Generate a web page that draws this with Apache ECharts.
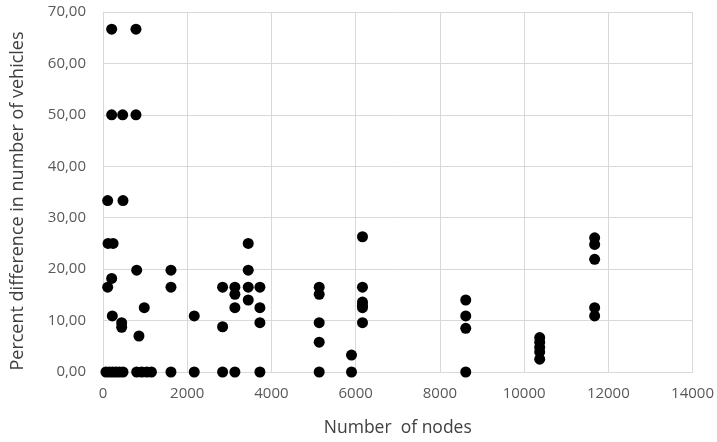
<!DOCTYPE html>
<html>
<head>
<meta charset="utf-8">
<script src="https://cdn.jsdelivr.net/npm/echarts@6/dist/echarts.min.js"></script>
<style>html,body{margin:0;padding:0;background:#fff;}#c{width:717px;height:442px;}</style>
</head>
<body>
<div id="c"></div>
<script>
// Number of nodes (x) and percent difference (y), paired
const nodes = [
  70, 150, 230, 310, 390, 475, 800, 920, 1040, 1150, 1614, 2167, 2840, 3132, 3726, 5134, 5901, 8614,
  206, 783,
  206, 467, 783,
  111, 475,
  120, 240, 3449, 6162, 11675, 11675,
  800, 1614, 3449,
  206,
  111, 1614, 2840, 3132, 3449, 3726, 5134, 6162,
  3132, 5134,
  3449, 8614,
  6162, 6162,
  980, 3132, 3726, 6162, 11675,
  221, 2167, 8614, 11675,
  443, 3726, 5134, 6162,
  443, 2840, 8614,
  854,
  5134,
  5901,
  10370, 10370, 10370, 10370, 10370,
  11675
];
const percentDiff = [
  0, 0, 0, 0, 0, 0, 0, 0, 0, 0, 0, 0, 0, 0, 0, 0, 0, 0,
  66.67, 66.67,
  50, 50, 50,
  33.33, 33.33,
  25, 25, 25, 26.3, 26.1, 24.8,
  19.8, 19.8, 19.8,
  18.2,
  16.5, 16.5, 16.5, 16.5, 16.5, 16.5, 16.5, 16.5,
  15.1, 15.1,
  14.0, 14.0,
  13.6, 13.0,
  12.5, 12.5, 12.5, 12.5, 12.5,
  10.9, 10.9, 10.9, 10.9,
  9.6, 9.6, 9.6, 9.6,
  8.7, 8.8, 8.5,
  7.0,
  5.8,
  3.3,
  6.7, 5.8, 4.8, 3.9, 2.5,
  21.9
];
const xTicks = { min: 0, max: 14000, interval: 2000 };
const yTicks = { min: 0, max: 70, interval: 10 };

const points = nodes.map((x, i) => [x, percentDiff[i]]);
const font = "'Open Sans', sans-serif";
const chart = echarts.init(document.getElementById('c'), null, { renderer: 'canvas' });
chart.setOption({
  animation: false,
  backgroundColor: '#fff',
  grid: { left: 103, right: 24, top: 12, bottom: 69, containLabel: false },
  xAxis: {
    type: 'value', min: xTicks.min, max: xTicks.max, interval: xTicks.interval,
    name: 'Number  of nodes', nameLocation: 'middle', nameGap: 47,
    nameTextStyle: { color: '#404040', fontSize: 17.5, fontFamily: font },
    axisLine: { show: true, lineStyle: { color: '#d9d9d9', width: 1 } },
    axisTick: { show: false },
    axisLabel: { color: '#595959', fontSize: 15, fontFamily: font, margin: 14,
      formatter: v => String(v) },
    splitLine: { show: true, lineStyle: { color: '#d9d9d9', width: 1 } }
  },
  yAxis: {
    type: 'value', min: yTicks.min, max: yTicks.max, interval: yTicks.interval,
    name: 'Percent difference in number of vehicles', nameLocation: 'middle', nameGap: 76, nameRotate: 90,
    nameTextStyle: { color: '#404040', fontSize: 18, fontFamily: font, padding: [0, 18, 0, 0] },
    axisLine: { show: true, lineStyle: { color: '#d9d9d9', width: 1 } },
    axisTick: { show: false },
    axisLabel: { color: '#595959', fontSize: 15, fontFamily: font, margin: 17,
      formatter: v => v.toFixed(2).replace('.', ',') },
    splitLine: { show: true, lineStyle: { color: '#d9d9d9', width: 1 } }
  },
  series: [{
    type: 'scatter', data: points, symbol: 'circle', symbolSize: 11,
    itemStyle: { color: '#000', opacity: 1 }
  }]
});
</script>
</body>
</html>
